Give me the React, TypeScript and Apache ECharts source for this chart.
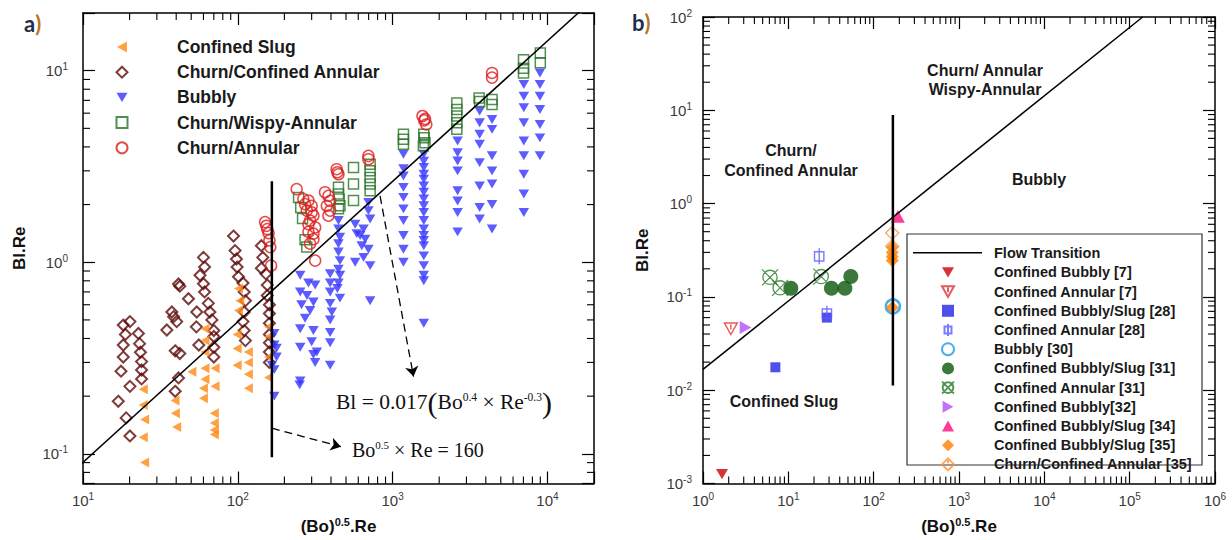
import React, { useEffect, useRef } from 'react';
import * as echarts from 'echarts';

const FONT = "'Liberation Sans', Arial, Helvetica, sans-serif";
const SERIF = "'Liberation Serif', 'Times New Roman', serif";

// ---------- Panel a data: [(Bo)^0.5.Re, Bl.Re] ----------
const confinedSlug: number[][] = [
  [24.5, 0.217], [24.5, 0.18], [25, 0.151], [24.5, 0.122], [25, 0.09],
  [39.3, 0.19], [39.5, 0.163], [40.3, 0.138],
  [50.5, 0.268],
  [61.4, 0.45], [61.4, 0.39], [61.4, 0.34], [61.4, 0.28], [61.4, 0.245], [60, 0.22], [60, 0.195],
  [71.3, 0.28], [71.3, 0.225], [70.5, 0.163], [70.5, 0.145], [70.5, 0.133], [70.5, 0.126],
  [101, 0.73], [103, 0.63], [101, 0.56], [99, 0.42], [99, 0.355], [99, 0.29],
  [117, 0.34], [117, 0.3], [117, 0.26], [117, 0.22],
  [158, 0.46], [158, 0.41], [158, 0.32], [158, 0.25],
];
const churnConfinedAnnular: number[][] = [
  [16.9, 0.188], [20.1, 0.49], [18.2, 0.47], [18.8, 0.42], [18.2, 0.37], [18.2, 0.32], [17.6, 0.27],
  [20.1, 0.225], [19, 0.154], [20.1, 0.124],
  [22.8, 0.425], [23.2, 0.376], [23.5, 0.339], [23.9, 0.303], [23.9, 0.274], [23.9, 0.246],
  [34.8, 0.443], [37.5, 0.55], [38.5, 0.52], [40.3, 0.49], [39.4, 0.345], [42.2, 0.334], [41.4, 0.249],
  [39.4, 0.212], [41.4, 0.77], [42.2, 0.75], [48, 0.645],
  [60, 1.06], [61, 0.944], [57, 0.855], [60, 0.773], [61, 0.7], [54.3, 0.55], [54, 0.46], [56, 0.37],
  [64.5, 0.61], [66, 0.55], [68, 0.5], [70, 0.44], [70, 0.41], [70, 0.36], [70, 0.32],
  [93.8, 1.37], [96, 1.15], [98, 1.04], [99, 0.944], [101, 0.84],
  [108, 0.78], [110, 0.7], [112, 0.63], [110, 0.55], [108, 0.49], [110, 0.44], [112, 0.39],
  [142, 1.22], [145, 1.06], [142, 0.93], [152, 0.87], [155, 0.76], [155, 0.67], [160, 0.6], [160, 0.54],
  [160, 0.48], [160, 0.42], [160, 0.38], [160, 0.34], [160, 0.3],
];
const bubbly: number[][] = [
  [172, 0.425], [172, 0.37], [178, 0.356], [178, 0.32], [166, 0.29], [172, 0.275], [172, 0.2],
  [253, 0.855], [286, 0.78], [316, 0.76], [253, 0.7], [280, 0.67], [308, 0.62], [258, 0.6], [293, 0.56],
  [272, 0.51], [253, 0.45], [308, 0.44], [300, 0.385], [253, 0.36], [324, 0.34], [253, 0.24], [251, 0.229],
  [308, 0.33], [316, 0.3],
  [447, 1.65], [447, 1.49], [457, 1.35], [447, 1.25], [447, 1.13], [457, 1.02], [447, 0.92], [457, 0.855],
  [447, 0.78], [440, 0.73], [457, 0.65],
  [395, 0.87], [395, 0.78], [395, 0.7], [395, 0.61], [405, 0.55], [395, 0.5], [395, 0.43], [395, 0.38], [395, 0.29],
  [573, 1.58], [587, 1.41], [649, 1.49], [617, 1.38], [665, 1.32], [632, 1.22], [698, 1.17], [573, 1.0],
  [649, 1.06], [716, 0.96], [716, 0.63], [698, 1.86], [716, 1.68], [698, 2.05],
  [1175, 3.66], [1175, 3.08], [1175, 2.82], [1175, 2.46], [1175, 2.18], [1175, 1.9], [1175, 1.65],
  [1175, 1.38], [1175, 1.17], [1175, 1.0],
  [1590, 3.66], [1590, 3.37], [1590, 3.12], [1590, 2.88], [1590, 2.71], [1590, 2.5], [1590, 2.32],
  [1590, 2.14], [1590, 1.97], [1590, 1.82], [1590, 1.65], [1590, 1.49], [1590, 1.38], [1590, 1.3],
  [1590, 1.22], [1590, 1.08], [1590, 0.96], [1590, 0.855], [1590, 0.8], [1590, 0.48],
  [2630, 4.29], [2630, 3.73], [2630, 3.38], [2630, 3.0], [2630, 2.36], [2630, 2.09], [2630, 1.82], [2630, 1.44],
  [3650, 6.15], [3650, 5.35], [3650, 4.66], [3650, 4.13], [3650, 3.31], [3650, 2.5], [3650, 1.93], [3650, 1.68],
  [4390, 5.56], [4390, 4.94], [4390, 3.6], [4390, 3.0], [4390, 2.56], [4390, 2.0], [4390, 1.49],
  [7040, 8.46], [7040, 7.35], [7040, 6.4], [7040, 5.35], [7040, 4.29], [7040, 3.6], [7040, 2.88],
  [7040, 2.27], [7040, 1.82],
  [8950, 9.73], [8950, 8.46], [8950, 7.35], [8950, 6.27], [8950, 5.24], [8950, 4.46], [8950, 3.6],
];
const churnWispyAnnular: number[][] = [
  [247, 2.18], [255, 1.93], [262, 1.69], [272, 1.31], [279, 1.2],
  [447, 2.46], [447, 2.27], [452, 2.14], [457, 1.97], [447, 1.9],
  [559, 3.12], [559, 2.56], [559, 2.1],
  [716, 3.25], [716, 3.0], [716, 2.77], [716, 2.56], [716, 2.36],
  [1175, 4.66], [1175, 4.39], [1175, 4.13],
  [1590, 4.66], [1620, 4.2], [1600, 4.46], [1580, 4.05],
  [2600, 6.79], [2600, 6.27], [2600, 5.8], [2600, 5.35], [2600, 4.94],
  [3620, 7.21], [3650, 6.9],
  [4390, 7.07], [4390, 6.66],
  [7010, 11.4], [7010, 10.3], [7010, 9.73],
  [9000, 12.35], [9000, 11.0],
];
const churnAnnular: number[][] = [
  [150, 1.62], [153, 1.55], [155, 1.49], [158, 1.42], [160, 1.3], [162, 1.2], [164, 0.96],
  [240, 2.41],
  [265, 2.14], [286, 2.1], [300, 1.97], [279, 1.86], [308, 1.75], [293, 1.65], [316, 1.52], [286, 1.44],
  [308, 1.32], [293, 1.25], [316, 1.02], [272, 2.01], [300, 1.82], [286, 1.58], [308, 1.41],
  [366, 2.32], [385, 2.22], [395, 2.09], [376, 1.97], [395, 1.86], [385, 1.75],
  [435, 3.06], [447, 2.88], [440, 2.95],
  [698, 3.59], [698, 3.45],
  [1560, 5.8], [1600, 5.5], [1650, 5.24], [1620, 5.6],
  [4390, 9.73], [4390, 9.2],
];

// ---------- Panel b data ----------
const confinedBubbly7: number[][] = [[1.67, 0.00126]];
const confinedAnnular7: number[][] = [[2.12, 0.0455]];
const bubblySlug28: number[][] = [[7.05, 0.0176], [28.3, 0.06]];
const confinedAnnular28: number[][] = [[23, 0.272], [28.3, 0.066]];
const bubbly30: number[][] = [[168, 0.079]];
const bubblySlug31: number[][] = [[10.7, 0.124], [32, 0.124], [46, 0.124], [54, 0.165]];
const confinedAnnular31: number[][] = [[6.1, 0.162], [8.0, 0.125], [24.3, 0.165]];
const confinedBubbly32: number[][] = [[3.15, 0.047]];
const bubblySlug34: number[][] = [[192, 0.73]];
const bubblySlug35: number[][] = [[165, 0.34], [165, 0.3], [165, 0.27], [165, 0.245], [165, 0.077]];
const churnConfined35: number[][] = [[165, 0.485], [165, 0.35]];

// transition lines (read endpoints)
const transitionLine: number[][] = [[1, 0.0167], [142000, 100]];
const verticalA: number[][] = [[166, 0.096], [166, 2.65]];
const verticalB: number[][] = [[168, 0.0112], [168, 8.9]];
const arrowEq: number[][] = [[830, 2.22], [1365, 0.253]];
const arrowBo: number[][] = [[166, 0.136], [463, 0.109]];

const legendA = ['Confined Slug', 'Churn/Confined Annular', 'Bubbly', 'Churn/Wispy-Annular', 'Churn/Annular'];
const legendB = [
  'Flow Transition', 'Confined Bubbly [7]', 'Confined Annular [7]', 'Confined Bubbly/Slug [28]',
  'Confined Annular [28]', 'Bubbly [30]', 'Confined Bubbly/Slug [31]', 'Confined Annular [31]',
  'Confined Bubbly[32]', 'Confined Bubbly/Slug [34]', 'Confined Bubbly/Slug [35]', 'Churn/Confined Annular [35]',
];

const rangeAX = [10, 20000];
const rangeAY = [0.07, 20];
const rangeBX = [1, 1e6];
const rangeBY = [0.001, 100];

// symbol shapes
const CIRCLE_X = (() => {
  const r = 8, c = 10, k = 0.5523 * r;
  return `path://M${c},${c - r} C${c + k},${c - r} ${c + r},${c - k} ${c + r},${c} C${c + r},${c + k} ${c + k},${c + r} ${c},${c + r} C${c - k},${c + r} ${c - r},${c + k} ${c - r},${c} C${c - r},${c - k} ${c - k},${c - r} ${c},${c - r} Z M1,1 L19,19 M19,1 L1,19`;
})();
const TRI_DOWN_LINE = 'path://M0,0 L20,0 L10,18 Z M10,2 L10,10';
const SQUARE_LINE = 'path://M2,5 L16,5 L16,19 L2,19 Z M9,0 L9,24';
const DIAMOND_LINE = 'path://M10,0 L20,10 L10,20 L0,10 Z M10,1 L10,8';
const TRI_LEFT = 'path://M0,5 L9,0 L9,10 Z';
const TRI_DOWN = 'path://M0,0 L10,0 L5,8.5 Z';
const TRI_UP = 'path://M5,0 L10,9 L0,9 Z';
const TRI_RIGHT = 'path://M0,0 L9,5 L0,10 Z';
const DIAMOND = 'path://M5,0 L10,5 L5,10 L0,5 Z';
const SQUARE = 'path://M0,0 L10,0 L10,10 L0,10 Z';

const powLabel = (v: number) => {
  const l = Math.log10(v);
  const e = Math.round(l);
  if (Math.abs(l - e) > 1e-6) return '';
  return `{b|10}{s|${e}}`;
};
const labelRich = {
  b: { fontSize: 15, fontFamily: FONT, color: '#3a3a3a', lineHeight: 18 },
  s: { fontSize: 10, fontFamily: FONT, color: '#3a3a3a', lineHeight: 10, verticalAlign: 'top' },
};

function logAxis(gridIndex: number, range: number[], position: string, label: any, extra: any = {}) {
  return {
    type: 'log', logBase: 10, gridIndex, min: range[0], max: range[1], position, silent: true,
    splitLine: { show: false },
    axisLine: { show: true, lineStyle: { color: '#000', width: 1.5 } },
    axisTick: { show: true, inside: true, length: 12, lineStyle: { color: '#000', width: 1.2 } },
    minorTick: { show: false },
    axisLabel: label ? { show: true, margin: label, formatter: powLabel, rich: labelRich } : { show: false },
    ...extra,
  };
}

function minorTicks(axisIndex: number, xr: number[], yr: number[]) {
  return {
    type: 'custom', xAxisIndex: axisIndex, yAxisIndex: axisIndex, silent: true, clip: false, z: 10,
    data: [[xr[0], yr[0]]],
    renderItem: (params: any, api: any) => {
      const cs = params.coordSys;
      const L = cs.x, T = cs.y, R = cs.x + cs.width, B = cs.y + cs.height;
      const children: any[] = [];
      const ln = (x1: number, y1: number, x2: number, y2: number) => ({
        type: 'line', shape: { x1, y1, x2, y2 }, style: { stroke: '#000', lineWidth: 1.1 },
      });
      for (let e = Math.floor(Math.log10(xr[0])); e < Math.ceil(Math.log10(xr[1])); e++) {
        for (let k = 2; k <= 9; k++) {
          const v = k * Math.pow(10, e);
          if (v <= xr[0] || v >= xr[1]) continue;
          const px = api.coord([v, yr[0]])[0];
          children.push(ln(px, B, px, B - 7), ln(px, T, px, T + 7));
        }
      }
      for (let e = Math.floor(Math.log10(yr[0])); e < Math.ceil(Math.log10(yr[1])); e++) {
        for (let k = 2; k <= 9; k++) {
          const v = k * Math.pow(10, e);
          if (v <= yr[0] * 1.0001 || v >= yr[1] * 0.9999) continue;
          const py = api.coord([xr[0], v])[1];
          children.push(ln(L, py, L + 7, py), ln(R, py, R - 7, py));
        }
      }
      return { type: 'group', children };
    },
  };
}

const nameRich = {
  t: { fontSize: 17, fontWeight: 'bold', fontFamily: FONT, color: '#111', lineHeight: 20 },
  s: { fontSize: 11, fontWeight: 'bold', fontFamily: FONT, color: '#111', lineHeight: 11, verticalAlign: 'top' },
};

function buildOption() {
  const open = (c: string, w: number) => ({ color: 'rgba(0,0,0,0)', borderColor: c, borderWidth: w });
  const sc = (name: string, ai: number, data: number[][], symbol: string, size: any, itemStyle: any, extra: any = {}) => ({
    name, type: 'scatter', xAxisIndex: ai, yAxisIndex: ai, data, symbol, symbolSize: size,
    symbolKeepAspect: true, itemStyle, silent: true, ...extra,
  });
  const dashed = { type: [8, 5], color: '#000', width: 1.3 };
  const legendBData = legendB.map((n) =>
    n === 'Flow Transition'
      ? { name: n, icon: 'rect', itemStyle: { color: 'rgba(0,0,0,0)', borderWidth: 0, opacity: 0 } }
      : { name: n },
  );

  return {
    animation: false,
    backgroundColor: '#fff',
    textStyle: { fontFamily: FONT },
    grid: [
      { left: 83, top: 13, width: 511, height: 472 },
      { left: 703, top: 17, width: 512, height: 468 },
    ],
    xAxis: [
      logAxis(0, rangeAX, 'bottom', 8, {
        name: '{t|(Bo)}{s|0.5}{t|.Re}', nameLocation: 'middle', nameGap: 33, nameTextStyle: { rich: nameRich },
      }),
      logAxis(0, rangeAX, 'top', 0),
      logAxis(1, rangeBX, 'bottom', 8, {
        name: '{t|(Bo)}{s|0.5}{t|.Re}', nameLocation: 'middle', nameGap: 33, nameTextStyle: { rich: nameRich },
      }),
      logAxis(1, rangeBX, 'top', 0),
    ],
    yAxis: [
      logAxis(0, rangeAY, 'left', 15, {
        name: 'Bl.Re', nameLocation: 'middle', nameRotate: 90, nameGap: 55,
        nameTextStyle: { fontSize: 17, fontWeight: 'bold', fontFamily: FONT, color: '#111' },
      }),
      logAxis(0, rangeAY, 'right', 0),
      logAxis(1, rangeBY, 'left', 11, {
        name: 'Bl.Re', nameLocation: 'middle', nameRotate: 90, nameGap: 52,
        nameTextStyle: { fontSize: 17, fontWeight: 'bold', fontFamily: FONT, color: '#111' },
      }),
      logAxis(1, rangeBY, 'right', 0),
    ],
    legend: [
      {
        data: legendA, orient: 'vertical', left: 115.5, top: 38, itemWidth: 11, itemHeight: 11, itemGap: 7.2,
        padding: 0, selectedMode: false, formatter: '{g| }{name}',
        textStyle: {
          fontSize: 17.5, fontWeight: 'bold', fontFamily: FONT, color: '#1a1a1a', lineHeight: 17,
          rich: { g: { width: 44.5 } },
        },
      },
      {
        data: legendBData, orient: 'vertical', left: 941, top: 245.7, itemWidth: 12, itemHeight: 12, itemGap: 4.2,
        padding: 0, selectedMode: false, formatter: '{g| }{name}',
        textStyle: {
          fontSize: 14.5, fontWeight: 'bold', fontFamily: FONT, color: '#1a1a1a', lineHeight: 14,
          rich: { g: { width: 35 } },
        },
      },
    ],
    series: [
      // ----- panel a -----
      sc('Churn/Confined Annular', 0, churnConfinedAnnular, DIAMOND, 11, open('#5c0a0a', 2)),
      sc('Confined Slug', 0, confinedSlug, TRI_LEFT, 10, { color: '#ff8a14' }),
      sc('Bubbly', 0, bubbly, TRI_DOWN, 10.5, { color: '#3333ff' }),
      sc('Churn/Wispy-Annular', 0, churnWispyAnnular, SQUARE, 10, open('#267326', 1.5)),
      sc('Churn/Annular', 0, churnAnnular, 'circle', 11, open('#e01b1b', 1.5)),
      {
        name: 'Transition a', type: 'line', xAxisIndex: 0, yAxisIndex: 0, data: transitionLine,
        symbol: 'none', clip: true, silent: true, lineStyle: { color: '#000', width: 1.5 },
      },
      {
        name: 'Boundary a', type: 'line', xAxisIndex: 0, yAxisIndex: 0, data: verticalA,
        symbol: 'none', silent: true, lineStyle: { color: '#000', width: 2.5 },
        markLine: {
          silent: true, symbol: ['none', 'arrow'], symbolSize: 10, lineStyle: dashed, label: { show: false },
          data: [
            [{ coord: arrowEq[0] }, { coord: arrowEq[1] }],
            [{ coord: arrowBo[0] }, { coord: arrowBo[1] }],
          ],
        },
      },
      minorTicks(0, rangeAX, rangeAY),
      // ----- panel b -----
      {
        name: 'Flow Transition', type: 'line', xAxisIndex: 2, yAxisIndex: 2, data: transitionLine,
        symbol: 'none', clip: true, silent: true, itemStyle: { color: '#000' }, lineStyle: { color: '#000', width: 1.5 },
      },
      {
        name: 'Boundary b', type: 'line', xAxisIndex: 2, yAxisIndex: 2, data: verticalB,
        symbol: 'none', silent: true, lineStyle: { color: '#000', width: 2.5 },
      },
      sc('Confined Bubbly [7]', 2, confinedBubbly7, TRI_DOWN, 12, { color: '#cc0000' }),
      sc('Confined Annular [7]', 2, confinedAnnular7, TRI_DOWN_LINE, 13, open('#e03030', 1.4)),
      sc('Confined Bubbly/Slug [28]', 2, bubblySlug28, SQUARE, 10, { color: '#2323e6' }),
      sc('Confined Annular [28]', 2, confinedAnnular28, SQUARE_LINE, 16, open('#5a5aff', 1.4)),
      sc('Bubbly [30]', 2, bubbly30, 'circle', 14, open('#1a9be6', 2.5)),
      sc('Confined Bubbly/Slug [31]', 2, bubblySlug31, 'circle', 15, { color: '#0a560a' }),
      sc('Confined Annular [31]', 2, confinedAnnular31, CIRCLE_X, 16, open('#2a7a2a', 1.3)),
      sc('Confined Bubbly[32]', 2, confinedBubbly32, TRI_RIGHT, 13, { color: '#b050f0' }),
      sc('Confined Bubbly/Slug [34]', 2, bubblySlug34, TRI_UP, 14, { color: '#ff0a80' }),
      sc('Confined Bubbly/Slug [35]', 2, bubblySlug35, DIAMOND, 13, { color: '#ff8000' }),
      sc('Churn/Confined Annular [35]', 2, churnConfined35, DIAMOND_LINE, 13, open('#ff9030', 1.3)),
      minorTicks(2, rangeBX, rangeBY),
    ],
    graphic: [
      {
        type: 'text', x: 24, y: 23,
        style: {
          text: '{a|a}{p|)}', verticalAlign: 'middle',
          rich: {
            a: { fontSize: 22, fontWeight: 'bold', fontFamily: 'Lato, ' + FONT, fill: '#1f2d4d' },
            p: { fontSize: 22, fontWeight: 'bold', fontFamily: 'Lato, ' + FONT, fill: '#b8731f' },
          },
        },
      },
      {
        type: 'text', x: 632, y: 22,
        style: {
          text: '{a|b}{p|)}', verticalAlign: 'middle',
          rich: {
            a: { fontSize: 22, fontWeight: 'bold', fontFamily: 'Lato, ' + FONT, fill: '#1f2d4d' },
            p: { fontSize: 22, fontWeight: 'bold', fontFamily: 'Lato, ' + FONT, fill: '#b8731f' },
          },
        },
      },
      {
        type: 'text', x: 336, y: 402,
        style: {
          text: '{t|Bl = 0.017}{p|(}{t|Bo}{s|0.4}{t| × Re}{s|-0.3}{p|)}', verticalAlign: 'middle', align: 'left',
          rich: {
            t: { fontSize: 21.5, fontFamily: SERIF, fill: '#111', lineHeight: 23 },
            p: { fontSize: 30, fontFamily: SERIF, fill: '#111', lineHeight: 23 },
            s: { fontSize: 11.5, fontFamily: SERIF, fill: '#111', lineHeight: 11, verticalAlign: 'top' },
          },
        },
      },
      {
        type: 'text', x: 352, y: 450,
        style: {
          text: '{t|Bo}{s|0.5}{t| × Re = 160}', verticalAlign: 'middle', align: 'left',
          rich: {
            t: { fontSize: 20, fontFamily: SERIF, fill: '#111', lineHeight: 22 },
            s: { fontSize: 11, fontFamily: SERIF, fill: '#111', lineHeight: 11, verticalAlign: 'top' },
          },
        },
      },
      {
        type: 'text', x: 985, y: 80,
        style: {
          text: 'Churn/ Annular\nWispy-Annular', align: 'center', verticalAlign: 'middle', lineHeight: 18.5,
          fontSize: 16, fontWeight: 'bold', fontFamily: FONT, fill: '#1a1a1a',
        },
      },
      {
        type: 'text', x: 791, y: 160.5,
        style: {
          text: 'Churn/\nConfined Annular', align: 'center', verticalAlign: 'middle', lineHeight: 19.5,
          fontSize: 16, fontWeight: 'bold', fontFamily: FONT, fill: '#1a1a1a',
        },
      },
      {
        type: 'text', x: 1039, y: 179,
        style: {
          text: 'Bubbly', align: 'center', verticalAlign: 'middle',
          fontSize: 16, fontWeight: 'bold', fontFamily: FONT, fill: '#1a1a1a',
        },
      },
      {
        type: 'text', x: 784, y: 401,
        style: {
          text: 'Confined Slug', align: 'center', verticalAlign: 'middle',
          fontSize: 16, fontWeight: 'bold', fontFamily: FONT, fill: '#1a1a1a',
        },
      },
      {
        type: 'rect', shape: { x: 907, y: 234, width: 295, height: 231 },
        style: { fill: 'none', stroke: '#333', lineWidth: 1.2 }, silent: true,
      },
      // legend sample line for "Flow Transition"
      {
        type: 'line', shape: { x1: 913, y1: 252.7, x2: 982, y2: 252.7 },
        style: { stroke: '#000', lineWidth: 1.5 }, silent: true,
      },
    ],
  };
}

export default function App() {
  const ref = useRef<HTMLDivElement>(null);
  useEffect(() => {
    document.body.style.margin = '0';
    const chart = echarts.init(ref.current as HTMLDivElement, null, { renderer: 'svg' });
    chart.setOption(buildOption() as any);
    return () => chart.dispose();
  }, []);
  return <div ref={ref} style={{ width: 1232, height: 540 }} />;
}
